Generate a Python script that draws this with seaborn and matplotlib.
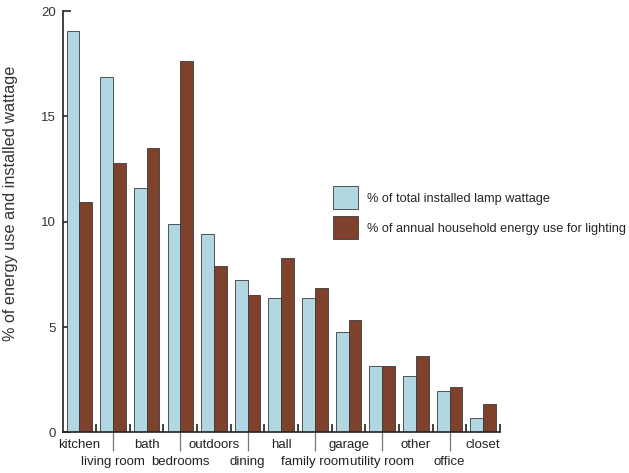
import matplotlib
matplotlib.use("Agg")
import numpy as np
import pandas as pd
import seaborn as sns
import matplotlib.pyplot as plt

# data
rooms = ["kitchen", "living room", "bath", "bedrooms", "outdoors", "dining", "hall",
         "family room", "garage", "utility room", "other", "office", "closet"]
wattage = [19.05, 16.85, 11.6, 9.9, 9.4, 7.25, 6.4, 6.4, 4.75, 3.15, 2.7, 1.95, 0.7]
energy = [10.95, 12.8, 13.5, 17.65, 7.9, 6.5, 8.3, 6.85, 5.35, 3.15, 3.65, 2.15, 1.35]
series_names = ["% of total installed lamp wattage",
                "% of annual household energy use for lighting"]

df = pd.DataFrame({
    "room": rooms * 2,
    "value": wattage + energy,
    "series": [series_names[0]] * len(rooms) + [series_names[1]] * len(rooms),
})

sns.set_style("ticks")
plt.rcParams['font.family'] = ['Liberation Sans', 'DejaVu Sans']

fig = plt.figure(figsize=(6.29, 4.73), dpi=100)
ax = fig.add_axes([0.0994, 0.0858, 0.6955, 0.8909])

sns.barplot(data=df, x="room", y="value", hue="series",
            palette=["#a9dcea", "#8b3a1f"], width=0.76,
            edgecolor="#3a3a3a", linewidth=0.6, ax=ax)

# axes / spines
ax.set_xlim(-0.5, 12.5)
ax.set_ylim(0, 20)
ax.set_yticks([0, 5, 10, 15, 20])
sns.despine(ax=ax)
for s in ["left", "bottom"]:
    ax.spines[s].set_linewidth(1.2)
    ax.spines[s].set_color("#222222")
ax.tick_params(axis='y', direction='in', length=6, width=1.2, pad=5,
               labelsize=9.5, labelcolor="#333333", color="#222222")

# top row labels + small inward ticks between groups
ax.set_xticks(range(0, 13, 2), rooms[0::2])
ax.tick_params(axis='x', which='major', length=0, pad=5, labelsize=9.5,
               labelcolor="#222222")
ax.set_xticks(np.arange(13) + 0.5, minor=True)
ax.tick_params(axis='x', which='minor', direction='in', length=6, width=1.2,
               color="#222222")

# bottom row labels with leader lines
sec = ax.secondary_xaxis('bottom')
sec.set_xticks(range(1, 13, 2), rooms[1::2])
sec.tick_params(axis='x', direction='out', length=14, width=0.9,
                color="#777777", pad=3, labelsize=9.5, labelcolor="#222222")
sec.spines['bottom'].set_visible(False)

ax.set_xlabel("")
ax.set_ylabel("% of energy use and installed wattage", fontsize=11.7,
              color="#333333")
ax.yaxis.set_label_coords(-0.102, 0.544)

sns.move_legend(ax, "upper left", bbox_to_anchor=(0.618, 0.584), title=None,
                frameon=False, fontsize=9.2, borderpad=0, borderaxespad=0,
                handlelength=1.95, handleheight=2.4, labelspacing=0.55,
                handletextpad=0.7)

fig.savefig("out.png", dpi=100)
